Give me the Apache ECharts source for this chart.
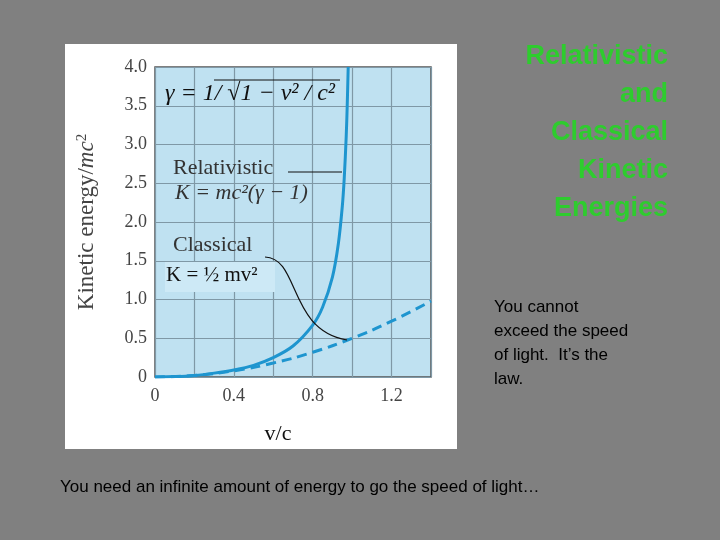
<!DOCTYPE html>
<html>
<head>
<meta charset="utf-8">
<script src="https://cdn.jsdelivr.net/npm/echarts@6/dist/echarts.min.js"></script>
<style>
  html, body { margin: 0; padding: 0; background: #808080; }
  #chart { width: 720px; height: 540px; }
</style>
</head>
<body>
<div id="chart"></div>
<script>
// values
var relV = [0, 0.1, 0.2, 0.3, 0.4, 0.5, 0.6, 0.7, 0.8, 0.85, 0.9, 0.93, 0.95, 0.96, 0.97];
var relK = [0, 0.005, 0.02, 0.05, 0.09, 0.15, 0.25, 0.40, 0.67, 0.90, 1.29, 1.72, 2.20, 2.57, 3.11];
var clsV = [0, 0.2, 0.4, 0.6, 0.8, 1.0, 1.2, 1.4];
var clsK = [0, 0.02, 0.08, 0.18, 0.32, 0.50, 0.72, 0.98];
var relTail = [[0.97, 3.11], [0.975, 3.5], [0.98, 4.0]];

var relData = relV.map(function (v, i) { return [v, relK[i]]; }).concat(relTail.slice(1));
var clsData = clsV.map(function (v, i) { return [v, clsK[i]]; });

var serif = '"Liberation Serif", "DejaVu Serif", serif';
var sans = '"Liberation Sans", Arial, sans-serif';
var blue = '#1e95cf';

var myChart = echarts.init(document.getElementById('chart'));
var option = {
    backgroundColor: '#808080',
    animation: false,
    grid: {
        left: 155, right: 289, top: 67, bottom: 163,
        show: true, backgroundColor: '#bfe1f1', borderColor: '#555', borderWidth: 1.5
    },
    xAxis: {
        type: 'value', min: 0, max: 1.4, interval: 0.2,
        axisLine: { show: false }, axisTick: { show: false },
        splitLine: { lineStyle: { color: '#7f98a6', width: 1.2 } },
        axisLabel: {
            fontFamily: serif, fontSize: 18, color: '#444', margin: 10,
            formatter: function (v) {
                return ['0', '0.4', '0.8', '1.2'].indexOf(String(v)) >= 0 ? String(v) : '';
            }
        },
        name: 'v/c', nameLocation: 'middle', nameGap: 46,
        nameTextStyle: { fontFamily: serif, fontSize: 22, color: '#111', padding: [0, 30, 0, 0] }
    },
    yAxis: {
        type: 'value', min: 0, max: 4, interval: 0.5,
        axisLine: { show: false }, axisTick: { show: false },
        splitLine: { lineStyle: { color: '#7f98a6', width: 1.2 } },
        axisLabel: {
            fontFamily: serif, fontSize: 18, color: '#444', margin: 8,
            formatter: function (v) { return v === 0 ? '0' : v.toFixed(1); }
        },
        name: '{a|Kinetic energy/}{b|mc}{c|2}', nameLocation: 'middle', nameGap: 56, nameRotate: 90,
        nameTextStyle: {
            rich: {
                a: { fontFamily: serif, fontSize: 23, color: '#444' },
                b: { fontFamily: serif, fontSize: 23, color: '#444', fontStyle: 'italic' },
                c: { fontFamily: serif, fontSize: 15, color: '#444', verticalAlign: 'top', padding: [0, 0, 9, 0] }
            }
        }
    },
    series: [
        { type: 'line', data: relData, smooth: 0.3, symbol: 'none', lineStyle: { color: blue, width: 3 }, z: 3 },
        { type: 'line', data: clsData, smooth: true, symbol: 'none', lineStyle: { color: blue, width: 3, type: [10, 6] }, z: 3 }
    ],
    graphic: [
        { type: 'rect', z: -10, shape: { x: 65, y: 44, width: 392, height: 405 }, style: { fill: '#fff' } },
        { type: 'rect', z: 1, shape: { x: 165, y: 262, width: 110, height: 30 }, style: { fill: '#cde9f6' } },
        { type: 'text', z: 10, left: 165, top: 82, style: { text: 'γ = 1/ √1 − v² / c²', font: 'italic 24px ' + serif, fill: '#111' } },
        { type: 'line', z: 10, shape: { x1: 214, y1: 80, x2: 340, y2: 80 }, style: { stroke: '#111', lineWidth: 1 } },
        { type: 'text', z: 10, left: 173, top: 157, style: { text: 'Relativistic', font: '22px ' + serif, fill: '#333' } },
        { type: 'line', z: 10, shape: { x1: 288, y1: 172, x2: 342, y2: 172 }, style: { stroke: '#111', lineWidth: 1.2 } },
        { type: 'text', z: 10, left: 175, top: 182, style: { text: 'K = mc²(γ − 1)', font: 'italic 22px ' + serif, fill: '#333' } },
        { type: 'text', z: 10, left: 173, top: 234, style: { text: 'Classical', font: '22px ' + serif, fill: '#333' } },
        { type: 'bezierCurve', z: 10, shape: { x1: 265, y1: 257, cpx1: 300, cpy1: 258, cpx2: 288, cpy2: 330, x2: 347, y2: 340 }, style: { stroke: '#111', lineWidth: 1.2, fill: null } },
        { type: 'text', z: 10, left: 166, top: 265, style: { text: 'K = ½ mv²', font: '21px ' + serif, fill: '#111' } },
        { type: 'text', z: 10, x: 668, y: 38, style: { text: 'Relativistic\nand\nClassical\nKinetic\nEnergies', font: 'bold 27px ' + sans, fill: '#2ecc2e', align: 'right', textAlign: 'right', lineHeight: 38 } },
        { type: 'text', z: 10, left: 494, top: 295, style: { text: 'You cannot\nexceed the speed\nof light.  It\u2019s the\nlaw.', font: '17px ' + sans, fill: '#000', lineHeight: 24 } },
        { type: 'text', z: 10, left: 60, top: 479, style: { text: 'You need an infinite amount of energy to go the speed of light\u2026', font: '17px ' + sans, fill: '#000' } }
    ]
};
myChart.setOption(option);
</script>
</body>
</html>
